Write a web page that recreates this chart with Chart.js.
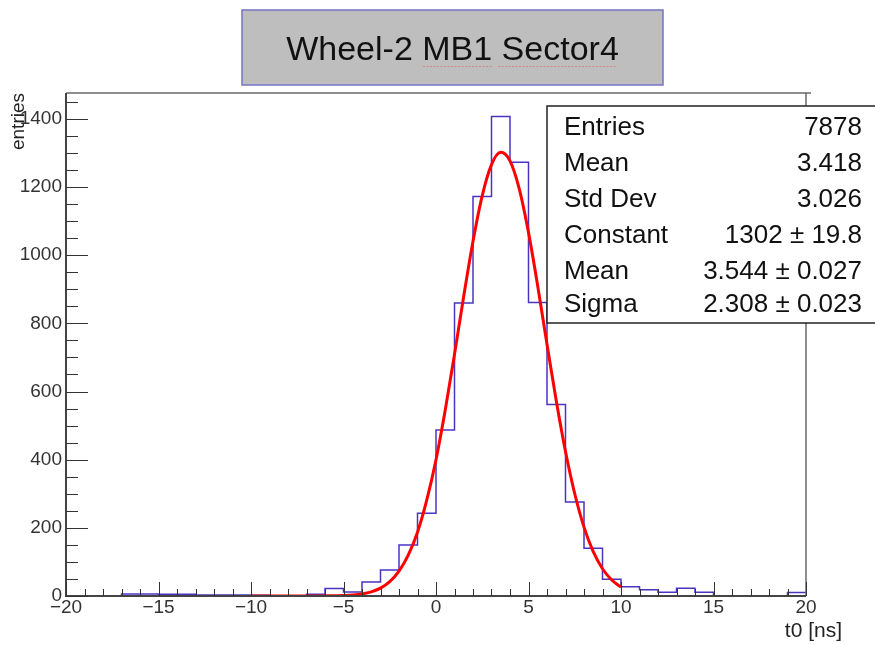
<!DOCTYPE html>
<html>
<head>
<meta charset="utf-8">
<script src="https://cdn.jsdelivr.net/npm/chart.js@4.4.0/dist/chart.umd.min.js"></script>
<style>
  html, body { margin: 0; padding: 0; background: #fff; }
  canvas { display: block; }
</style>
</head>
<body>
<canvas id="histo" width="875" height="645"></canvas>
<script>
// histogram: 1 ns bins from -20 to 20 (low edges + contents)
const binLowEdges = [-20, -19, -18, -17, -16, -15, -14, -13, -12, -11,
                     -10, -9, -8, -7, -6, -5, -4, -3, -2, -1,
                     0, 1, 2, 3, 4, 5, 6, 7, 8, 9,
                     10, 11, 12, 13, 14, 15, 16, 17, 18, 19];
const binCounts = [0, 0, 0, 6, 6, 5, 5, 3, 3, 3,
                   2, 1, 1, 5, 22, 12, 41, 76, 150, 243,
                   487, 860, 1172, 1407, 1273, 861, 562, 276, 140, 49,
                   27, 18, 11, 23, 11, 0, 0, 0, 0, 10];
const xUpperEdge = 20;

// gaussian fit
const fitX = [-10, -9, -8, -7, -6, -5, -4.5, -4, -3.5, -3, -2.5, -2, -1.5, -1, -0.5,
              0, 0.5, 1, 1.5, 2, 2.5, 3, 3.5, 4, 4.5, 5, 5.5, 6, 6.5, 7, 7.5,
              8, 8.5, 9, 9.5, 10];
const fitY = [0, 0, 0, 0, 0.3, 1.4, 3, 6, 12, 23, 42, 73, 120, 187, 281,
              400, 546, 709, 880, 1041, 1175, 1266, 1302, 1277, 1195, 1067, 909, 739, 573, 424, 300,
              202, 130, 80, 47, 26];

const xTickValues = [-20, -15, -10, -5, 0, 5, 10, 15, 20];
const yTickValues = [0, 200, 400, 600, 800, 1000, 1200, 1400];

const titleText = 'Wheel-2 MB1 Sector4';
const statsLabels = ['Entries', 'Mean', 'Std Dev', 'Constant', 'Mean', 'Sigma'];
const statsValues = ['7878', '3.418', '3.026', '1302 \u00b1 19.8', '3.544 \u00b1 0.027', '2.308 \u00b1 0.023'];

const FONT = '"Liberation Sans", Arial, Helvetica, sans-serif';

const histPoints = binLowEdges.map((x, i) => ({ x: x, y: binCounts[i] }));
histPoints.push({ x: xUpperEdge, y: binCounts[binCounts.length - 1] });
const fitPoints = fitX.map((x, i) => ({ x: x, y: fitY[i] }));

// ROOT-like frame, inward ticks, title pave and stats box
const rootDecor = {
    id: 'rootDecor',
    afterDatasetsDraw(chart) {
        const ctx = chart.ctx;
        const a = chart.chartArea;
        const xs = chart.scales.x;
        const ys = chart.scales.y;
        ctx.save();

        // frame
        ctx.strokeStyle = '#6a6a6a';
        ctx.lineWidth = 1.5;
        ctx.beginPath();
        ctx.moveTo(a.left, a.top);
        ctx.lineTo(a.right + 5, a.top);
        ctx.moveTo(a.right, a.top);
        ctx.lineTo(a.right, a.bottom);
        ctx.stroke();
        ctx.strokeStyle = '#444';
        ctx.lineWidth = 2;
        ctx.beginPath();
        ctx.moveTo(a.left, a.top);
        ctx.lineTo(a.left, a.bottom);
        ctx.lineTo(a.right, a.bottom);
        ctx.stroke();

        // x ticks
        ctx.strokeStyle = '#333';
        ctx.lineWidth = 1;
        ctx.beginPath();
        for (let v = xs.min; v <= xs.max; v += 1) {
            const px = Math.round(xs.getPixelForValue(v)) + 0.5;
            const len = xTickValues.includes(v) ? 14 : 7;
            ctx.moveTo(px, a.bottom);
            ctx.lineTo(px, a.bottom - len);
        }
        // y ticks
        for (let v = 0; v <= ys.max; v += 50) {
            const py = Math.round(ys.getPixelForValue(v)) + 0.5;
            const len = yTickValues.includes(v) ? 22 : 12;
            ctx.moveTo(a.left, py);
            ctx.lineTo(a.left + len, py);
        }
        ctx.stroke();
        ctx.restore();
    },
    afterDraw(chart) {
        const ctx = chart.ctx;
        ctx.save();

        // title pave
        ctx.fillStyle = '#bebebe';
        ctx.fillRect(242, 10, 421, 75);
        ctx.strokeStyle = '#7474c4';
        ctx.lineWidth = 1.5;
        ctx.strokeRect(242, 10, 421, 75);
        ctx.fillStyle = '#111';
        ctx.font = '34px ' + FONT;
        ctx.textAlign = 'center';
        ctx.textBaseline = 'alphabetic';
        ctx.fillText(titleText, 452.5, 60);
        // spell-check squiggles seen in the screenshot
        ctx.strokeStyle = 'rgba(225, 90, 90, 0.55)';
        ctx.lineWidth = 1;
        ctx.setLineDash([2, 1.5]);
        ctx.beginPath();
        ctx.moveTo(423, 66.5); ctx.lineTo(493, 66.5);
        ctx.moveTo(498, 66.5); ctx.lineTo(616, 66.5);
        ctx.stroke();
        ctx.setLineDash([]);

        // stats box
        const bx = 547, by = 106, bw = 340, bh = 217;
        ctx.fillStyle = '#fff';
        ctx.fillRect(bx, by, bw, bh);
        ctx.strokeStyle = '#222';
        ctx.lineWidth = 1.5;
        ctx.strokeRect(bx, by, bw, bh);
        ctx.fillStyle = '#111';
        ctx.font = '26px ' + FONT;
        const rowY = [135, 170.5, 206.5, 243, 278.5, 312];
        statsLabels.forEach((lab, i) => {
            ctx.textAlign = 'left';
            ctx.fillText(lab, 564, rowY[i]);
            ctx.textAlign = 'right';
            ctx.fillText(statsValues[i], 862, rowY[i]);
        });

        // axis titles
        ctx.fillStyle = '#222';
        ctx.font = '21px ' + FONT;
        ctx.textAlign = 'right';
        ctx.fillText('t0 [ns]', 842, 637);
        ctx.save();
        ctx.translate(24, 93);
        ctx.rotate(-Math.PI / 2);
        ctx.font = '19px ' + FONT;
        ctx.textAlign = 'right';
        ctx.fillText('entries', 0, 0);
        ctx.restore();

        ctx.restore();
    }
};

const tickFont = { family: FONT, size: 19, lineHeight: 1 };

new Chart(document.getElementById('histo'), {
    type: 'line',
    data: {
        datasets: [
            {
                label: 'fit',
                data: fitPoints,
                borderColor: '#ff0000',
                borderWidth: 3,
                pointRadius: 0,
                cubicInterpolationMode: 'monotone',
                fill: false,
                order: 1
            },
            {
                label: 'histo',
                data: histPoints,
                borderColor: '#4a35c2',
                borderWidth: 1.5,
                pointRadius: 0,
                stepped: 'before',
                fill: false,
                order: 2
            }
        ]
    },
    options: {
        responsive: false,
        animation: false,
        events: [],
        layout: { padding: { top: 93, right: 69, left: 0, bottom: 0 } },
        plugins: {
            legend: { display: false },
            tooltip: { enabled: false },
            title: { display: false }
        },
        scales: {
            x: {
                type: 'linear',
                min: -20,
                max: 20,
                grid: { display: false, drawTicks: false },
                border: { display: false },
                afterBuildTicks: (scale) => { scale.ticks = xTickValues.map(v => ({ value: v })); },
                afterFit: (scale) => { scale.height = 49; },
                ticks: {
                    font: tickFont,
                    color: '#333',
                    padding: 2,
                    maxRotation: 0,
                    autoSkip: false,
                    callback: (v) => (v < 0 ? '\u2212' + Math.abs(v) : String(v))
                }
            },
            y: {
                type: 'linear',
                min: 0,
                max: 1476,
                grid: { display: false, drawTicks: false },
                border: { display: false },
                afterBuildTicks: (scale) => { scale.ticks = yTickValues.map(v => ({ value: v })); },
                afterFit: (scale) => { scale.width = 66; },
                ticks: {
                    font: tickFont,
                    color: '#333',
                    padding: 4,
                    autoSkip: false,
                    callback: (v) => String(v)
                }
            }
        }
    },
    plugins: [rootDecor]
});
</script>
</body>
</html>
